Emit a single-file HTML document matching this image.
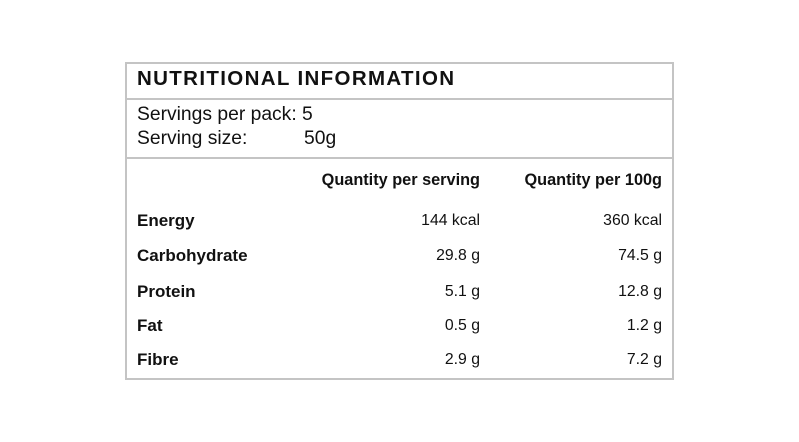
<!DOCTYPE html>
<html><head><style>
body{margin:0;width:799px;height:442px;background:#fff;position:relative;font-family:"Liberation Sans",sans-serif;color:#111;overflow:hidden}
.box{position:absolute;left:125px;top:62px;width:545px;height:314px;border:2px solid #c4c4c4;box-sizing:content-box}
.hl{position:absolute;left:0;width:545px;height:2px;background:#c4c4c4}
.t{position:absolute;white-space:nowrap}
.b{font-weight:bold}
.r{text-align:right}
.h{font-size:16.3px;font-weight:bold}
.n{font-size:17px;font-weight:bold}
.v{font-size:15.8px}
</style></head><body>
<div class="box">
<div class="hl" style="top:34px"></div>
<div class="hl" style="top:93px"></div>
</div>
<div class="t b" style="left:137px;top:67px;font-size:20.5px;letter-spacing:1.35px">NUTRITIONAL INFORMATION</div>
<div class="t" style="left:137px;top:104px;font-size:19.3px">Servings per pack: 5</div>
<div class="t" style="left:137px;top:128px;font-size:19.3px">Serving size:</div>
<div class="t" style="left:304px;top:128px;font-size:19.3px">50g</div>
<div class="t h r" style="right:319px;top:171px">Quantity per serving</div>
<div class="t h r" style="right:137px;top:171px">Quantity per 100g</div>
<div class="t n" style="left:137px;top:211px">Energy</div>
<div class="t v r" style="right:319px;top:212px">144 kcal</div>
<div class="t v r" style="right:137px;top:212px">360 kcal</div>
<div class="t n" style="left:137px;top:246px">Carbohydrate</div>
<div class="t v r" style="right:319px;top:247px">29.8 g</div>
<div class="t v r" style="right:137px;top:247px">74.5 g</div>
<div class="t n" style="left:137px;top:282px">Protein</div>
<div class="t v r" style="right:319px;top:283px">5.1 g</div>
<div class="t v r" style="right:137px;top:283px">12.8 g</div>
<div class="t n" style="left:137px;top:316px">Fat</div>
<div class="t v r" style="right:319px;top:317px">0.5 g</div>
<div class="t v r" style="right:137px;top:317px">1.2 g</div>
<div class="t n" style="left:137px;top:350px">Fibre</div>
<div class="t v r" style="right:319px;top:351px">2.9 g</div>
<div class="t v r" style="right:137px;top:351px">7.2 g</div>
</body></html>
